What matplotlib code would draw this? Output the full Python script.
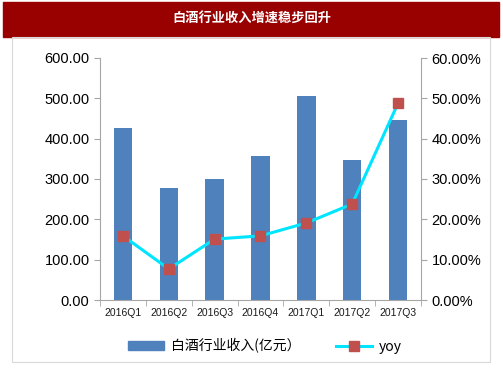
import matplotlib.pyplot as plt
import matplotlib.patches as mpatches
import matplotlib.ticker as ticker
import numpy as np

plt.rcParams['font.family'] = ['Liberation Sans', 'Noto Sans CJK SC', 'DejaVu Sans']

# datos
categorias = ["2016Q1", "2016Q2", "2016Q3", "2016Q4", "2017Q1", "2017Q2", "2017Q3"]
ingresos = [427, 278, 300, 357, 507, 346, 447]
yoy = [15.9, 7.7, 15.1, 15.9, 19.1, 23.8, 48.8]

titulo = "白酒行业收入增速稳步回升"
nombre_barras = "白酒行业收入(亿元）"
nombre_linea = "yoy"

fig = plt.figure(figsize=(5.03, 3.78), dpi=100)

# banda roja del titulo
fig.patches.append(mpatches.Rectangle((3 / 503, 1 - 37 / 378), 496 / 503, 35 / 378,
                                      transform=fig.transFigure, color="#990000", zorder=0))
fig.text(0.5, 1 - 19 / 378, titulo, color="white", fontsize=9.5, fontweight="bold",
         ha="center", va="center", family=["Noto Sans CJK SC", "DejaVu Sans"])

# marco gris
fig.patches.append(mpatches.Rectangle((12 / 503, 1 - 362 / 378), 478 / 503, 325 / 378,
                                      transform=fig.transFigure, fill=False,
                                      edgecolor="#d9d9d9", linewidth=0.8, zorder=0))

ax = fig.add_axes([100 / 503, 1 - 300 / 378, 321 / 503, 242 / 378])
x = np.arange(len(categorias))
ax.bar(x, ingresos, width=0.4, color="#4F81BD", zorder=2)
ax.set_ylim(0, 600)
ax.set_xlim(-0.5, len(categorias) - 0.5)
ax.yaxis.set_major_locator(ticker.MultipleLocator(100))
ax.yaxis.set_major_formatter(ticker.FormatStrFormatter("%.2f"))
ax.set_xticks(x)
ax.set_xticklabels(categorias, fontsize=7.5, color="#1a1a1a")
ax.set_xticks(np.arange(-0.5, len(categorias)), minor=True)
ax.tick_params(axis="x", which="major", length=0, pad=6)
ax.tick_params(axis="x", which="minor", length=4, color="#a6a6a6")
ax.tick_params(axis="y", labelsize=10.5, length=4, color="#a6a6a6")
for s in ["top", "right"]:
    ax.spines[s].set_visible(False)
ax.spines["left"].set_color("#a6a6a6")
ax.spines["bottom"].set_color("#a6a6a6")

ax2 = ax.twinx()
ax2.plot(x, yoy, color="#00E5FF", linewidth=2.2, marker="s", markersize=7,
         markerfacecolor="#C0504D", markeredgecolor="#C0504D", zorder=3)
ax2.set_ylim(0, 60)
ax2.yaxis.set_major_locator(ticker.MultipleLocator(10))
ax2.yaxis.set_major_formatter(ticker.FuncFormatter(lambda v, p: f"{v:.2f}%"))
ax2.tick_params(axis="y", labelsize=10.5, length=4, color="#a6a6a6")
for s in ["top", "left", "bottom"]:
    ax2.spines[s].set_visible(False)
ax2.spines["right"].set_color("#a6a6a6")

# leyenda
h1 = mpatches.Patch(color="#4F81BD")
h2 = plt.Line2D([], [], color="#00E5FF", linewidth=2.2, marker="s", markersize=7,
                markerfacecolor="#C0504D", markeredgecolor="#C0504D")
fig.legend([h1, h2], [nombre_barras, nombre_linea], loc="center",
           bbox_to_anchor=(265 / 503, 1 - 346 / 378), ncol=2, frameon=False,
           prop={"family": ["Noto Sans CJK SC", "DejaVu Sans"], "size": 10},
           handlelength=2.6, handleheight=0.6, handletextpad=0.5, columnspacing=2.5)

plt.savefig("out.png", dpi=100)
